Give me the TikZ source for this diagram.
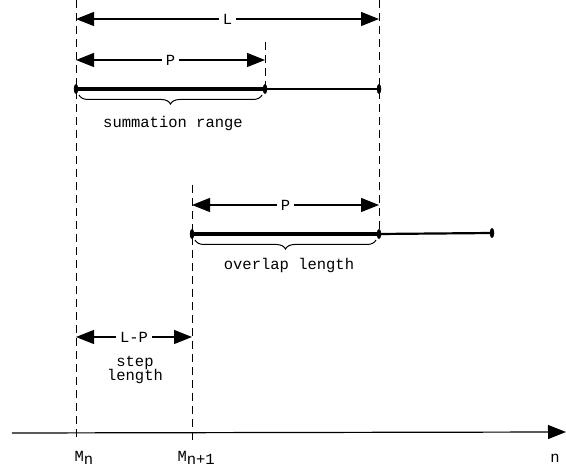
\documentclass[tikz,border=0pt]{standalone}
\usepackage{fontspec}
\setmonofont{Liberation Mono}
\usetikzlibrary{arrows.meta,decorations.pathreplacing,shapes.geometric}
\tikzset{bigtip/.tip={Triangle[length=18pt,width=14pt]},
    dimline/.style={bigtip-bigtip, line width=1.1pt},
    guide/.style={dash pattern=on 8pt off 5pt, line width=0.9pt},
    segthick/.style={line width=3.6pt},
    segthin/.style={line width=2.2pt},
    blob/.style={ellipse, fill, minimum width=4.5pt, minimum height=10pt, inner sep=0pt},
    dimlabel/.style={fill=white, inner xsep=4pt, inner ysep=1pt},
    underbrace/.style={decorate, decoration={brace, mirror, amplitude=9pt}, line width=1pt}
}
\newcommand{\lowsub}[1]{\raisebox{-3pt}{#1}}

\begin{document}
\begin{tikzpicture}[x=1pt, y=-1pt, font=\ttfamily\fontsize{15.5}{14.5}\selectfont]
            \useasboundingbox (0,0) rectangle (566,468);
            % guide lines
            \coordinate (mnTop) at (76, 0);
            \coordinate (mnBot) at (76, 440);
            \coordinate (mnoTop) at (192, 185);
            \coordinate (mnoBot) at (192, 440);
            \coordinate (pTop) at (265, 42);
            \coordinate (pBot) at (265, 89);
            \coordinate (lTop) at (379, 0);
            \coordinate (lBot) at (379, 234);
            \draw[guide] (mnTop) -- (mnBot);
            \draw[guide] (mnoTop) -- (mnoBot);
            \draw[guide] (pTop) -- (pBot);
            \draw[guide] (lTop) -- (lBot);
            % dimension arrows
            \coordinate (lA) at (76, 19);
            \coordinate (lB) at (379, 19);
            \coordinate (pA) at (76, 60);
            \coordinate (pB) at (265, 60);
            \coordinate (qA) at (192, 205);
            \coordinate (qB) at (379, 205);
            \coordinate (sA) at (76, 337);
            \coordinate (sB) at (192, 337);
            \draw[dimline] (lA) -- node[dimlabel] (lLab) {L} (lB);
            \draw[dimline] (pA) -- node[dimlabel] (pLab) {P} (pB);
            \draw[dimline] (qA) -- node[dimlabel] (qLab) {P} (qB);
            \draw[dimline] (sA) -- node[dimlabel] (sLab) {L-P} (sB);
            % first block
            \node[blob] (oneA) at (76, 89) {};
            \node[blob] (oneB) at (265, 89) {};
            \node[blob] (oneC) at (379, 89) {};
            \draw[segthick] (oneA.center) -- (oneB.center);
            \draw[segthin] (oneB.center) -- (oneC.center);
            \draw[underbrace] (79, 95) -- (262, 95);
            \node (sumLab) at (173, 123) {summation range};
            % second block
            \node[blob] (twoA) at (192, 234) {};
            \node[blob] (twoB) at (379, 234) {};
            \node[blob] (twoC) at (492, 233) {};
            \draw[segthick] (twoA.center) -- (twoB.center);
            \draw[segthin] (twoB.center) -- (twoC.center);
            \draw[underbrace] (195, 240) -- (376, 240);
            \node (ovLab) at (289, 265) {overlap length};
            \node[align=center] (stepLab) at (135, 370) {step\\length};
            % axis
            \coordinate (axL) at (12, 433);
            \coordinate (axR) at (566, 432);
            \draw[-bigtip, line width=1.2pt] (axL) -- (axR);
            \node[anchor=base west] (mnLab) at (71, 461) {M\lowsub{n}};
            \node[anchor=base west] (mnoLab) at (174, 461) {M\lowsub{n+1}};
            \node[anchor=base] (nLab) at (555, 462) {n};
        \end{tikzpicture}
\end{document}
